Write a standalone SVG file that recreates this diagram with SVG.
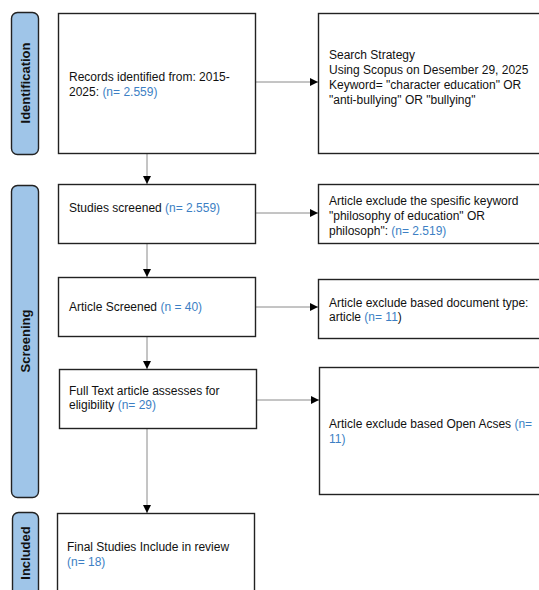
<svg xmlns="http://www.w3.org/2000/svg" width="539" height="590" viewBox="0 0 539 590">
<style>
.box{fill:#fff;stroke:#222;stroke-width:1.4}
.lab{fill:#9fc5e8;stroke:#222;stroke-width:1.4}
.t{font-family:"Liberation Sans",Arial,sans-serif;font-size:12px;fill:#111}
.n{fill:#3d7fc4}
.lt{font-family:"Liberation Sans",Arial,sans-serif;font-size:13px;font-weight:bold;fill:#111;text-anchor:middle}
.c{stroke:#8a8a8a;stroke-width:1;fill:none;marker-end:url(#ah)}
</style>
<defs>
<marker id="ah" viewBox="0 0 10 10" refX="10" refY="5" markerWidth="8" markerHeight="8" markerUnits="userSpaceOnUse" orient="auto">
<path d="M0,0 L10,5 L0,10 z" fill="#000"/>
</marker>
</defs>
<g id="connectors">
<line class="c" x1="256" y1="82" x2="318" y2="82"/>
<line class="c" x1="147" y1="153" x2="147" y2="184"/>
<line class="c" x1="256" y1="213" x2="318" y2="213"/>
<line class="c" x1="147" y1="243" x2="147" y2="277"/>
<line class="c" x1="256" y1="307" x2="318" y2="307"/>
<line class="c" x1="147" y1="336" x2="147" y2="369"/>
<line class="c" x1="256" y1="400" x2="319" y2="400"/>
<line class="c" x1="147" y1="428" x2="147" y2="513"/>
</g>
<g id="label-identification">
<rect class="lab" x="11.5" y="12.5" width="27" height="142" rx="6"/>
<text class="lt" transform="translate(29.5,83) rotate(-90)">Identification</text>
</g>
<g id="label-screening">
<rect class="lab" x="11.5" y="185.5" width="27" height="312" rx="6"/>
<text class="lt" transform="translate(29.5,341) rotate(-90)">Screening</text>
</g>
<g id="label-included">
<rect class="lab" x="12.5" y="512.5" width="26" height="100" rx="6"/>
<text class="lt" transform="translate(29.5,553) rotate(-90)">Included</text>
</g>
<g id="records">
<rect class="box" x="58.5" y="13.5" width="197" height="140"/>
<text class="t" x="69" y="81">Records identified from: 2015-</text>
<text class="t" x="69" y="96">2025: <tspan class="n">(n= 2.559)</tspan></text>
</g>
<g id="search">
<rect class="box" x="318.5" y="13.5" width="225" height="140"/>
<text class="t" x="329" y="59">Search Strategy</text>
<text class="t" x="329" y="74">Using Scopus on Desember 29, 2025</text>
<text class="t" x="329" y="89">Keyword= "character education" OR</text>
<text class="t" x="329" y="104">"anti-bullying" OR "bullying"</text>
</g>
<g id="screened">
<rect class="box" x="58.5" y="184.5" width="197" height="59"/>
<text class="t" x="69" y="212">Studies screened <tspan class="n">(n= 2.559)</tspan></text>
</g>
<g id="exclude-keyword">
<rect class="box" x="318.5" y="184.5" width="225" height="59"/>
<text class="t" x="329" y="205">Article exclude the spesific keyword</text>
<text class="t" x="329" y="220">"philosophy of education" OR</text>
<text class="t" x="329" y="235">philosoph": <tspan class="n">(n= 2.519)</tspan></text>
</g>
<g id="article-screened">
<rect class="box" x="58.5" y="277.5" width="197" height="59"/>
<text class="t" x="69" y="311">Article Screened <tspan class="n">(n = 40)</tspan></text>
</g>
<g id="exclude-type">
<rect class="box" x="318.5" y="279.5" width="225" height="59"/>
<text class="t" x="329" y="307">Article exclude based document type:</text>
<text class="t" x="329" y="321">article <tspan class="n">(n= 11</tspan>)</text>
</g>
<g id="fulltext">
<rect class="box" x="59.5" y="369.5" width="197" height="59"/>
<text class="t" x="69" y="395">Full Text article assesses for</text>
<text class="t" x="69" y="409">eligibility <tspan class="n">(n= 29)</tspan></text>
</g>
<g id="exclude-open">
<rect class="box" x="319.5" y="367.5" width="225" height="127"/>
<text class="t" x="329" y="428">Article exclude based Open Acses <tspan class="n">(n=</tspan></text>
<text class="t n" x="329" y="443">11)</text>
</g>
<g id="final">
<rect class="box" x="57.5" y="513.5" width="197" height="100"/>
<text class="t" x="67" y="551">Final Studies Include in review</text>
<text class="t n" x="67" y="566">(n= 18)</text>
</g>
</svg>
